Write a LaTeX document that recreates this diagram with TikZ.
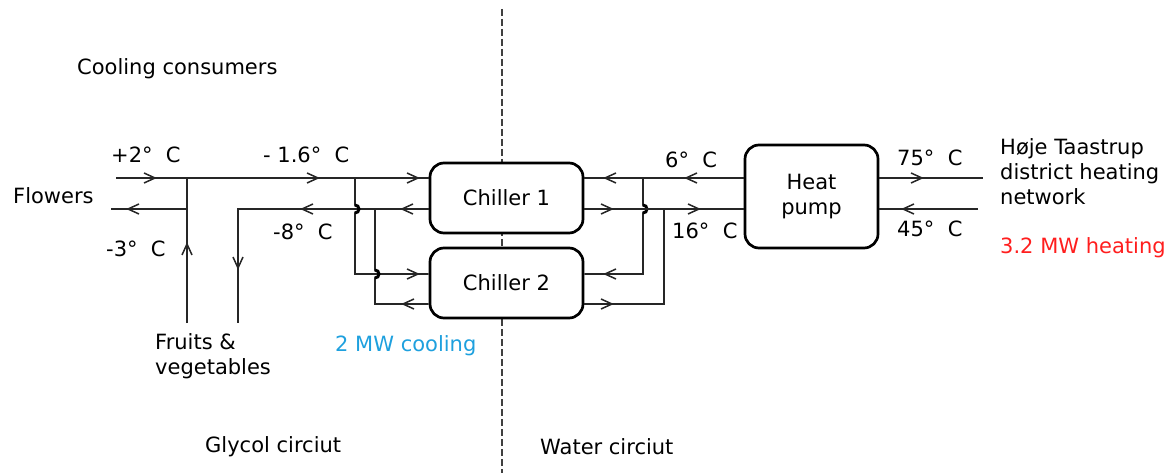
\documentclass[tikz,border=0pt]{standalone}
\usepackage{fontspec}
\setmainfont{DejaVu Sans}
\begin{document}
\begin{tikzpicture}[x=1pt,y=-1pt,
  every node/.style={font=\fontsize{21}{25}\selectfont, inner sep=0pt, text=black},
  pipe/.style={draw=black!85, line width=1.6pt},
  hop/.style={draw=black, line width=3pt},
  unit/.style={draw=black, fill=white, line width=2.7pt, rounded corners=14pt, minimum width=153pt, minimum height=70pt},
  lbl/.style={anchor=west},
  chev/.pic={\draw[black!85, line width=1.5pt] (-11pt,-5pt) -- (0,0) -- (-11pt,5pt);}
]
\useasboundingbox (0,0) rectangle (1175,473);

% divider
\coordinate (dtop) at (502,9);
\coordinate (dbot) at (502,473);
\draw[black!75, line width=1.3pt, dash pattern=on 7pt off 3pt] (dtop) -- (dbot);

% units
\node[unit] (c1) at (506.5,198) {Chiller 1};
\node[unit] (c2) at (506.5,283) {Chiller 2};
\node[unit, minimum width=133pt, minimum height=103pt, align=center] (hp) at (811.5,196.5) {Heat\\pump};

% glycol side coordinates
\coordinate (fl1) at (116,178);
\coordinate (fl2) at (111,209);
\coordinate (j1) at (187,178);
\coordinate (j1b) at (187,209);
\coordinate (fv1) at (187,323);
\coordinate (fv2) at (238,323);
\coordinate (j2) at (238,209);
\coordinate (j3) at (355,178);
\coordinate (j3b) at (355,274);
\coordinate (j4) at (375,209);
\coordinate (j4b) at (375,304);

\draw[pipe] (fl1) -- (j1) -- (j3) -- (c1.west |- j3);
\draw[pipe] (c1.west |- j4) -- (j4) -- (j2) -- (fv2);
\draw[pipe] (fv1) -- (j1b) -- (j1);
\draw[pipe] (j1b) -- (fl2);
\draw[pipe] (j3) -- ++(0,27) arc[start angle=90, end angle=-90, radius=4pt] -- (j3b) -- (c2.west |- j3b);
\draw[pipe] (j4) -- ++(0,61) arc[start angle=90, end angle=-90, radius=4pt] -- (j4b) -- (c2.west |- j4b);
\draw[hop] (355,205) arc[start angle=90, end angle=-90, radius=4pt];
\draw[hop] (375,270) arc[start angle=90, end angle=-90, radius=4pt];

% water side coordinates
\coordinate (k1) at (643,178);
\coordinate (k1b) at (643,274);
\coordinate (k2) at (664,209);
\coordinate (k2b) at (664,304);
\coordinate (dh1) at (983,178);
\coordinate (dh2) at (978,209);

\draw[pipe] (hp.west |- k1) -- (k1) -- (c1.east |- k1);
\draw[pipe] (k1) -- ++(0,27) arc[start angle=90, end angle=-90, radius=4pt] -- (k1b) -- (c2.east |- k1b);
\draw[hop] (643,205) arc[start angle=90, end angle=-90, radius=4pt];
\draw[pipe] (c1.east |- k2) -- (k2) -- (hp.west |- k2);
\draw[pipe] (k2) -- (k2b) -- (c2.east |- k2b);
\draw[pipe] (hp.east |- dh1) -- (dh1);
\draw[pipe] (dh2) -- (hp.east |- dh2);

% flow chevrons
\pic at (155,178) {chev};
\pic at (318,178) {chev};
\pic at (418,178) {chev};
\pic[rotate=180] at (128,209) {chev};
\pic[rotate=180] at (302,209) {chev};
\pic[rotate=180] at (402,209) {chev};
\pic[rotate=90] at (187,244) {chev};
\pic[rotate=-90] at (238,268) {chev};
\pic at (418,274) {chev};
\pic[rotate=180] at (403,304) {chev};
\pic[rotate=180] at (605,178) {chev};
\pic[rotate=180] at (686,178) {chev};
\pic at (612,209) {chev};
\pic at (699,209) {chev};
\pic[rotate=180] at (605,274) {chev};
\pic at (612,304) {chev};
\pic at (922,178) {chev};
\pic[rotate=180] at (903,209) {chev};

% labels
\node[lbl] (tcc) at (77,69) {Cooling consumers};
\node[lbl] (tfl) at (13,196) {Flowers};
\node[lbl] (t2) at (111,155) {+2°\ \ C};
\node[lbl] (t16) at (263,155) {- 1.6°\ \ C};
\node[lbl] (t3) at (106,249) {-3°\ \ C};
\node[lbl] (t8) at (273,232) {-8°\ \ C};
\node[lbl] (t6) at (665,160) {6°\ \ C};
\node[lbl] (t16w) at (672,231) {16°\ \ C};
\node[lbl] (t75) at (897,158) {75°\ \ C};
\node[lbl] (t45) at (897,229) {45°\ \ C};
\node[anchor=north west, align=left] (tfv) at (155,333) {Fruits \&\\vegetables};
\node[lbl, text={rgb,255:red,30;green,160;blue,222}] (tcool) at (335,346) {2 MW cooling};
\node[anchor=north west, align=left] (tdh) at (1000,138) {Høje Taastrup\\district heating\\network};
\node[lbl, text={rgb,255:red,255;green,30;blue,30}] (theat) at (1000,248) {3.2 MW heating};
\node[lbl] (tgly) at (205,447) {Glycol circiut};
\node[lbl] (twat) at (540,447) {Water circiut};
\end{tikzpicture}
\end{document}
